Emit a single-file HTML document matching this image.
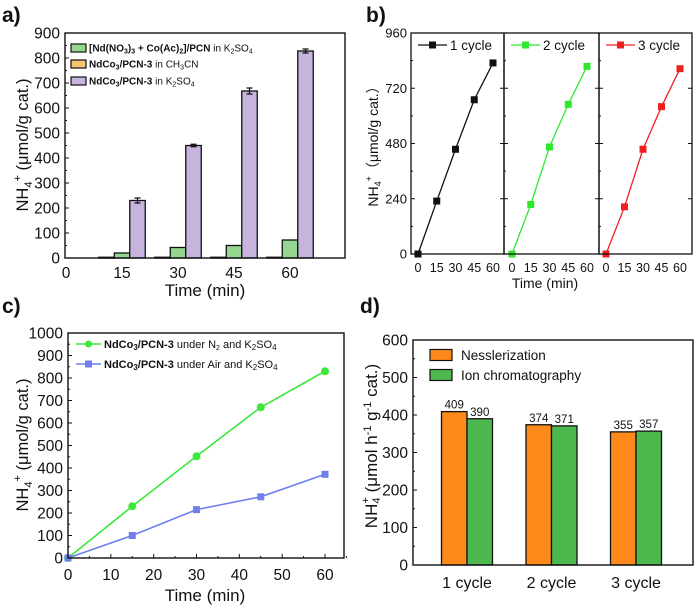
<!DOCTYPE html>
<html><head><meta charset="utf-8"><style>
html,body{margin:0;padding:0;background:#fff}
svg{display:block;font-family:"Liberation Sans",Arial,sans-serif}
</style></head><body>
<svg id="fig" width="700" height="607" viewBox="0 0 700 607" xmlns="http://www.w3.org/2000/svg"></svg>
<script>
// ---- Panel a data ----
const aTimes = [15, 30, 45, 60];
const aBlack = [3, 3, 3, 3];
const aOrange = [1, 1, 1, 1];
const aGreen = [20, 42, 50, 72];
const aPurple = [230, 450, 668, 828];
const aErr = [10, 5, 12, 8];
const aYTicks = [0, 100, 200, 300, 400, 500, 600, 700, 800, 900];
const aXTicks = [0, 15, 30, 45, 60];
// ---- Panel b data ----
const bTimes = [0, 15, 30, 45, 60];
const bCycle1 = [0, 230, 455, 670, 830];
const bCycle2 = [0, 215, 465, 650, 815];
const bCycle3 = [0, 205, 455, 640, 805];
const bYTicks = [0, 240, 480, 720, 960];
const bXTicks = [0, 15, 30, 45, 60];
// ---- Panel c data ----
const cTimes = [0, 15, 30, 45, 60];
const cN2 = [0, 230, 452, 670, 830];
const cAir = [0, 100, 215, 272, 372];
const cYTicks = [0, 100, 200, 300, 400, 500, 600, 700, 800, 900, 1000];
const cXTicks = [0, 10, 20, 30, 40, 50, 60];
// ---- Panel d data ----
const dCats = ["1 cycle", "2 cycle", "3 cycle"];
const dNess = [409, 374, 355];
const dIon = [390, 371, 357];
const dYTicks = [0, 100, 200, 300, 400, 500, 600];

const NS = "http://www.w3.org/2000/svg";
const svg = document.getElementById("fig");
function mk(tag, at, parent) {
  const e = document.createElementNS(NS, tag);
  for (const k in at) e.setAttribute(k, at[k]);
  (parent || svg).appendChild(e);
  return e;
}
function txt(x, y, s, size, anchor, weight, parent) {
  const t = mk("text", {x: x, y: y, "font-size": size, "text-anchor": anchor || "middle", "font-weight": weight || "normal", fill: "#111"}, parent);
  t.textContent = s;
  return t;
}
function group(name) {
  const g = mk("g", {});
  
  
  return g;
}
function linScale(d0, d1, r0, r1) { return v => r0 + (v - d0) * (r1 - r0) / (d1 - d0); }

// ================= Panel a =================
{
  const g = group("panel-a");
  const L = 65, R = 345, T = 33, B = 258;
  const y = linScale(0, 900, B, T);
  const x = linScale(0, 60, 66, 290);
  let lab = txt(2, 22, "a)", 21, "start", "bold", g);
  
  
  aYTicks.forEach((v, i) => {
    const t = txt(60, y(v) + 5.5, String(v), 15.5, "end", "normal", g);
    
    
    mk("line", {x1: L, x2: L + 4, y1: y(v), y2: y(v), stroke: "#111", "stroke-width": 1}, g);
    if (i < aYTicks.length - 1) mk("line", {x1: L, x2: L + 2, y1: y(v + 50), y2: y(v + 50), stroke: "#111", "stroke-width": 1}, g);
  });
  aXTicks.forEach(v => {
    const t = txt(x(v), 278, String(v), 15.5, "middle", "normal", g);
    
    
  });
  const bw = 15.5;
  aTimes.forEach((t, i) => {
    const c = x(t);
    const series = [[aBlack[i], "#222", c - 1.5 * bw, "bar-black"], [aOrange[i], "#f6c36e", c - 1.5 * bw, "bar-orange"], [aGreen[i], "#94d68f", c - 0.5 * bw, "bar-green"], [aPurple[i], "#c6b3de", c + 0.5 * bw, "bar-purple"]];
    series.forEach(s => {
      const r = mk("rect", {x: s[2], y: y(s[0]), width: bw, height: B - y(s[0]), fill: s[1], stroke: "#111", "stroke-width": 1.3}, g);
      
      
    });
    const ex = c + bw;
    const eb = mk("path", {d: `M${ex} ${y(aPurple[i] + aErr[i])}V${y(aPurple[i] - aErr[i])}M${ex - 3} ${y(aPurple[i] + aErr[i])}h6M${ex - 3} ${y(aPurple[i] - aErr[i])}h6`, stroke: "#111", "stroke-width": 1.2, fill: "none"}, g);
    
    
  });
  const fr = mk("rect", {x: L, y: T, width: R - L, height: B - T, fill: "none", stroke: "#111", "stroke-width": 1.4}, g);
  
  
  const leg = [["#94d68f", 48, "<tspan font-weight='bold'>[Nd(NO<tspan font-size='7' dy='2'>3</tspan><tspan dy='-2'>)</tspan><tspan font-size='7' dy='2'>3</tspan><tspan dy='-2'> + Co(Ac)</tspan><tspan font-size='7' dy='2'>2</tspan><tspan dy='-2'>]/PCN</tspan></tspan> in K<tspan font-size='7' dy='2'>2</tspan><tspan dy='-2'>SO</tspan><tspan font-size='7' dy='2'>4</tspan>"],
    ["#f6c36e", 64, "<tspan font-weight='bold'>NdCo<tspan font-size='7' dy='2'>3</tspan><tspan dy='-2'>/PCN-3</tspan></tspan> in CH<tspan font-size='7' dy='2'>3</tspan><tspan dy='-2'>CN</tspan>"],
    ["#c6b3de", 81, "<tspan font-weight='bold'>NdCo<tspan font-size='7' dy='2'>3</tspan><tspan dy='-2'>/PCN-3</tspan></tspan> in K<tspan font-size='7' dy='2'>2</tspan><tspan dy='-2'>SO</tspan><tspan font-size='7' dy='2'>4</tspan>"]];
  leg.forEach(l => {
    const r = mk("rect", {x: 71, y: l[1] - 4, width: 15, height: 8, fill: l[0], stroke: "#111", "stroke-width": 1.2}, g);
    
    
    const t = mk("text", {x: 89, y: l[1] + 3.5, "font-size": 10, fill: "#111"}, g);
    t.innerHTML = l[2];
    
    
  });
  const xt = txt(205, 296, "Time (min)", 17, "middle", "normal", g);
  
  
  const yt = mk("text", {x: 0, y: 0, "font-size": 16.5, "text-anchor": "middle", fill: "#111", transform: "translate(28,145) rotate(-90)"}, g);
  yt.innerHTML = "NH<tspan font-size='11' dy='4'>4</tspan><tspan font-size='11' dy='-11'>+</tspan><tspan dy='7'> (μmol/g cat.)</tspan>";
  
  
}

// ================= Panel b =================
{
  const g = group("panel-b");
  const T = 33, B = 254;
  const y = linScale(0, 960, B, T);
  const lab = txt(366, 22, "b)", 21, "start", "bold", g);
  
  
  const subs = [[411, 504, 418, 493, bCycle1, "#111", "1 cycle"], [504, 599, 512, 587, bCycle2, "#2ee82e", "2 cycle"], [599, 692, 606, 680, bCycle3, "#f02020", "3 cycle"]];
  bYTicks.forEach((v, i) => {
    const t = txt(407, y(v) + 4.5, String(v), 13, "end", "normal", g);
    
    
  });
  subs.forEach((s, k) => {
    const x = linScale(0, 60, s[2], s[3]);
    bYTicks.forEach((v, i) => {
      mk("line", {x1: s[0], x2: s[0] + 4, y1: y(v), y2: y(v), stroke: "#111"}, g);
      mk("line", {x1: s[1], x2: s[1] - 4, y1: y(v), y2: y(v), stroke: "#111"}, g);
      if (i < bYTicks.length - 1) mk("line", {x1: s[0], x2: s[0] + 2, y1: y(v + 120), y2: y(v + 120), stroke: "#111"}, g);
    });
    bXTicks.forEach(v => {
      const t = txt(x(v), 272, String(v), 12.5, "middle", "normal", g);
      
      
    });
    const pts = bTimes.map((t, i) => x(t) + "," + y(s[4][i])).join(" ");
    const pl = mk("polyline", {points: pts, fill: "none", stroke: s[5], "stroke-width": 1.3}, g);
    
    
    bTimes.forEach((t, i) => {
      const m = mk("rect", {x: x(t) - 3.5, y: y(s[4][i]) - 3.5, width: 7, height: 7, fill: s[5]}, g);
      
      
    });
    const fr = mk("rect", {x: s[0], y: T, width: s[1] - s[0], height: B - T, fill: "none", stroke: "#111", "stroke-width": 1.3}, g);
    
    
    mk("line", {x1: s[0] + 7, x2: s[0] + 36, y1: 45, y2: 45, stroke: s[5], "stroke-width": 1.3}, g);
    mk("rect", {x: s[0] + 18, y: 41.5, width: 7, height: 7, fill: s[5]}, g);
    const lt = txt(s[0] + 39, 50, s[6], 13.5, "start", "normal", g);
    
    
  });
  const xt = txt(545, 288, "Time (min)", 14, "middle", "normal", g);
  
  
  const yt = mk("text", {x: 0, y: 0, "font-size": 14, "text-anchor": "middle", fill: "#111", transform: "translate(378,143) rotate(-90)"}, g);
  yt.innerHTML = "NH<tspan font-size='9' dy='3'>4</tspan><tspan font-size='9' dy='-9'>+</tspan><tspan dy='6'>（μmol/g cat.）</tspan>";
  
  
}

// ================= Panel c =================
{
  const g = group("panel-c");
  const L = 68, R = 344, T = 333, B = 558;
  const y = linScale(0, 1000, B, T);
  const x = linScale(0, 60, 68, 325);
  const lab = txt(2, 313, "c)", 21, "start", "bold", g);
  
  
  cYTicks.forEach((v, i) => {
    const t = txt(63, y(v) + 5.5, String(v), 15.5, "end", "normal", g);
    
    
    mk("line", {x1: L, x2: L + 4, y1: y(v), y2: y(v), stroke: "#111"}, g);
    if (i < cYTicks.length - 1) mk("line", {x1: L, x2: L + 2, y1: y(v + 50), y2: y(v + 50), stroke: "#111"}, g);
  });
  cXTicks.forEach((v, i) => {
    const t = txt(x(v), 580, String(v), 15.5, "middle", "normal", g);
    
    
    mk("line", {x1: x(v), x2: x(v), y1: B, y2: B - 4, stroke: "#111"}, g);
    mk("line", {x1: x(v + 5), x2: x(v + 5), y1: B, y2: B - 2, stroke: "#111"}, g);
  });
  const ser = [[cN2, "#3ce83c", "c-line-n2", true], [cAir, "#6f80ee", "c-line-air", false]];
  ser.forEach(s => {
    const pl = mk("polyline", {points: cTimes.map((t, i) => x(t) + "," + y(s[0][i])).join(" "), fill: "none", stroke: s[1], "stroke-width": 1.6}, g);
    
    
    cTimes.forEach((t, i) => {
      const m = s[3] ? mk("circle", {cx: x(t), cy: y(s[0][i]), r: 4, fill: s[1]}, g) : mk("rect", {x: x(t) - 3.5, y: y(s[0][i]) - 3.5, width: 7, height: 7, fill: s[1]}, g);
      
      
    });
  });
  const fr = mk("rect", {x: L, y: T, width: R - L, height: B - T, fill: "none", stroke: "#111", "stroke-width": 1.4}, g);
  
  
  const leg = [["#3ce83c", 344, true, "N<tspan font-size='7' dy='2'>2</tspan><tspan dy='-2'>  and  K</tspan>"], ["#6f80ee", 364, false, "Air  and  K"]];
  leg.forEach(l => {
    mk("line", {x1: 76, x2: 101, y1: l[1], y2: l[1], stroke: l[0], "stroke-width": 1.6}, g);
    if (l[2]) mk("circle", {cx: 88.5, cy: l[1], r: 3.5, fill: l[0]}, g); else mk("rect", {x: 85, y: l[1] - 3.5, width: 7, height: 7, fill: l[0]}, g);
    const t = mk("text", {x: 104, y: l[1] + 4, "font-size": 11, fill: "#111"}, g);
    t.innerHTML = "<tspan font-weight='bold'>NdCo<tspan font-size='8' dy='2'>3</tspan><tspan dy='-2'>/PCN-3</tspan></tspan> under " + l[3] + "<tspan font-size='8' dy='2'>2</tspan><tspan dy='-2'>SO</tspan><tspan font-size='8' dy='2'>4</tspan>";
    
    
  });
  const xt = txt(205, 601, "Time (min)", 17, "middle", "normal", g);
  
  
  const yt = mk("text", {x: 0, y: 0, "font-size": 16.5, "text-anchor": "middle", fill: "#111", transform: "translate(28,445) rotate(-90)"}, g);
  yt.innerHTML = "NH<tspan font-size='11' dy='4'>4</tspan><tspan font-size='11' dy='-11'>+</tspan><tspan dy='7'> (μmol/g cat.)</tspan>";
  
  
}

// ================= Panel d =================
{
  const g = group("panel-d");
  const L = 413, R = 693, T = 340, B = 565;
  const y = linScale(0, 600, B, T);
  const cx = i => 467 + i * 84.5;
  const bw = 25.5;
  const lab = txt(360, 313, "d)", 21, "start", "bold", g);
  
  
  dYTicks.forEach((v, i) => {
    const t = txt(408, y(v) + 5.5, String(v), 15.5, "end", "normal", g);
    
    
    mk("line", {x1: L, x2: L + 4, y1: y(v), y2: y(v), stroke: "#111"}, g);
    if (i < dYTicks.length - 1) mk("line", {x1: L, x2: L + 2, y1: y(v + 50), y2: y(v + 50), stroke: "#111"}, g);
  });
  dCats.forEach((c, i) => {
    const t = txt(cx(i), 588, c, 16, "middle", "normal", g);
    
    
    const r1 = mk("rect", {x: cx(i) - bw, y: y(dNess[i]), width: bw, height: B - y(dNess[i]), fill: "#ff8a1c", stroke: "#111", "stroke-width": 1.3}, g);
    
    
    const r2 = mk("rect", {x: cx(i), y: y(dIon[i]), width: bw, height: B - y(dIon[i]), fill: "#4db84d", stroke: "#111", "stroke-width": 1.3}, g);
    
    
    const v1 = txt(cx(i) - bw / 2, y(dNess[i]) - 3, String(dNess[i]), 11.5, "middle", "normal", g);
    
    
    const v2 = txt(cx(i) + bw / 2, y(dIon[i]) - 3, String(dIon[i]), 11.5, "middle", "normal", g);
    
    
  });
  const fr = mk("rect", {x: L, y: T, width: R - L, height: B - T, fill: "none", stroke: "#111", "stroke-width": 1.4}, g);
  
  
  [["#ff8a1c", 355, "Nesslerization"], ["#4db84d", 375, "Ion chromatography"]].forEach(l => {
    const r = mk("rect", {x: 430, y: l[1] - 5.5, width: 22, height: 11, fill: l[0], stroke: "#111", "stroke-width": 1.2}, g);
    
    
    const t = txt(461, l[1] + 5, l[2], 13.5, "start", "normal", g);
    
    
  });
  const yt = mk("text", {x: 0, y: 0, "font-size": 17, "text-anchor": "middle", fill: "#111", transform: "translate(377,446) rotate(-90)"}, g);
  yt.innerHTML = "NH<tspan font-size='11' dy='3'>4</tspan><tspan font-size='11' dx='-6' dy='-11'>+</tspan><tspan dy='8'> (μmol h</tspan><tspan font-size='11' dy='-6'>-1</tspan><tspan dy='6'> g</tspan><tspan font-size='11' dy='-6'>-1</tspan><tspan dy='6'> cat.)</tspan>";
  
  
}
</script>
</body></html>
